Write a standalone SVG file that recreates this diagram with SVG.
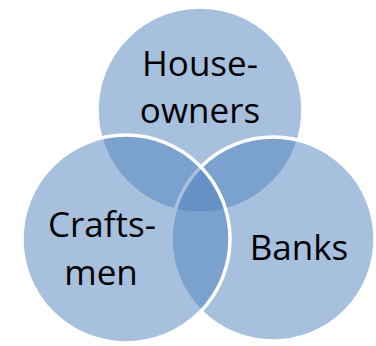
<svg xmlns="http://www.w3.org/2000/svg" width="376" height="346" viewBox="0 0 376 346">
<style>
.c{fill:#4F81BD;fill-opacity:0.5;stroke:#FFFFFF;stroke-width:3.5}
.t{font-family:"Open Sans","Noto Sans","Liberation Sans",sans-serif;font-size:35px;fill:#000;text-anchor:middle}
</style>
<rect width="376" height="346" fill="#FFFFFF"/>
<g id="houseowners">
<circle class="c" cx="200" cy="110" r="103"/>
</g>
<g id="banks">
<circle class="c" cx="273" cy="239" r="102"/>
</g>
<g id="craftsmen">
<circle class="c" cx="126" cy="239" r="104"/>
</g>
<g id="labels">
<text class="t" x="200" y="76">House-</text>
<text class="t" x="200" y="123">owners</text>
<text class="t" x="102" y="237">Crafts-</text>
<text class="t" x="101" y="285">men</text>
<text class="t" x="299" y="260">Banks</text>
</g>
<g id="connectors"></g>
</svg>
